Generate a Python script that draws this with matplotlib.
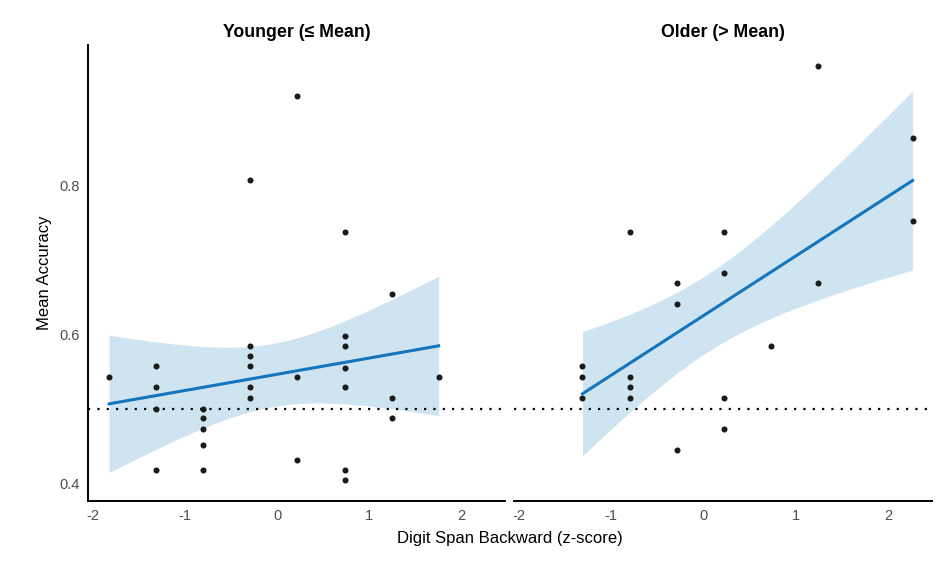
import numpy as np
import matplotlib.pyplot as plt

plt.rcParams['font.family'] = ['Liberation Sans', 'DejaVu Sans']
plt.rcParams['axes.unicode_minus'] = False

# Younger (<= mean) group
young_x = [-1.82,
           -1.31, -1.31, -1.31, -1.31,
           -0.80, -0.80, -0.80, -0.80, -0.80,
           -0.29, -0.29, -0.29, -0.29, -0.29, -0.29,
           0.22, 0.22, 0.22,
           0.73, 0.73, 0.73, 0.73, 0.73, 0.73, 0.73,
           1.24, 1.24, 1.24,
           1.75]
young_y = [0.543,
           0.557, 0.529, 0.500, 0.417,
           0.500, 0.487, 0.473, 0.451, 0.417,
           0.807, 0.584, 0.570, 0.557, 0.529, 0.514,
           0.919, 0.543, 0.431,
           0.737, 0.598, 0.584, 0.554, 0.529, 0.417, 0.404,
           0.654, 0.514, 0.487,
           0.543]

# Older (> mean) group
old_x = [-1.31, -1.31, -1.31,
         -0.80, -0.80, -0.80, -0.80,
         -0.29, -0.29, -0.29,
         0.22, 0.22, 0.22, 0.22,
         0.73,
         1.24, 1.24,
         2.26, 2.26]
old_y = [0.557, 0.543, 0.514,
         0.737, 0.543, 0.529, 0.514,
         0.668, 0.640, 0.445,
         0.737, 0.682, 0.514, 0.473,
         0.584,
         0.960, 0.668,
         0.863, 0.752]

panel_titles = ['Younger (\u2264 Mean)', 'Older (> Mean)']
chance = 0.5
# 97.5% t quantiles for df = n - 2
t_crit = {28: 2.048, 17: 2.110}

line_col = '#1475bd'
band_col = '#cfe4f1'


def smooth(ax, x, y):
    x = np.asarray(x)
    y = np.asarray(y)
    n = len(x)
    b, a = np.polyfit(x, y, 1)
    xs = np.linspace(x.min(), x.max(), 100)
    fit = a + b * xs
    resid = y - (a + b * x)
    s = np.sqrt(np.sum(resid ** 2) / (n - 2))
    se = s * np.sqrt(1 / n + (xs - x.mean()) ** 2 / np.sum((x - x.mean()) ** 2))
    t = t_crit[n - 2]
    ax.fill_between(xs, fit - t * se, fit + t * se, color=band_col, lw=0, zorder=1)
    ax.plot(xs, fit, color=line_col, lw=2.2, zorder=2)


fig = plt.figure(figsize=(9.53, 5.66), dpi=100)
ax1 = fig.add_axes([0.0923, 0.1148, 0.4377, 0.8057])
ax2 = fig.add_axes([0.5394, 0.1148, 0.4386, 0.8057])

for ax, xs, ys, title in [(ax1, young_x, young_y, panel_titles[0]),
                          (ax2, old_x, old_y, panel_titles[1])]:
    smooth(ax, xs, ys)
    ax.scatter(xs, ys, s=19, color='#1a1a1a', zorder=3, linewidths=0)
    ax.axhline(chance, color='black', ls=(0, (1, 3.2)), lw=1.6, zorder=2)
    ax.set_xlim(-2.05, 2.47)
    ax.set_ylim(0.376, 0.988)
    ax.set_xticks([-2, -1, 0, 1, 2])
    ax.set_title(title, fontsize=12.8, fontweight='bold', pad=6)
    for side in ['top', 'right']:
        ax.spines[side].set_visible(False)
    ax.spines['bottom'].set_linewidth(1.4)
    ax.tick_params(length=0, labelsize=10.5, labelcolor='#4d4d4d', pad=6)

ax1.spines['left'].set_linewidth(1.4)
ax1.set_yticks([0.4, 0.6, 0.8])
ax1.set_ylabel('Mean Accuracy', fontsize=12, labelpad=5)
ax2.spines['left'].set_visible(False)
ax2.set_yticks([])

fig.text(0.535, 0.04, 'Digit Span Backward (z-score)', ha='center', fontsize=12)

fig.savefig('out.png', dpi=100)
